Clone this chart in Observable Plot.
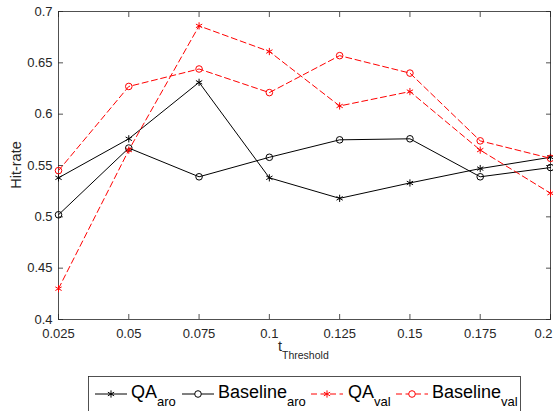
<!DOCTYPE html>
<html><head><meta charset="utf-8">
<script src="https://cdn.jsdelivr.net/npm/d3@7"></script>
<script src="https://cdn.jsdelivr.net/npm/@observablehq/plot@0.6"></script>
<style>
body{margin:0;background:#fff;font-family:"Liberation Sans",Arial,sans-serif}
#chart svg{display:block}
</style>
</head><body><div id="chart"></div><script>
// ---- data ----
const thresholds = [0.025, 0.05, 0.075, 0.1, 0.125, 0.15, 0.175, 0.2];
const xTickLabels = ["0.025", "0.05", "0.075", "0.1", "0.125", "0.15", "0.175", "0.2"];
const yTicks = [0.4, 0.45, 0.5, 0.55, 0.6, 0.65, 0.7];
const yTickLabels = ["0.4", "0.45", "0.5", "0.55", "0.6", "0.65", "0.7"];
const qaAro        = [0.538, 0.576, 0.631, 0.538, 0.518, 0.533, 0.547, 0.558];
const baselineAro  = [0.502, 0.567, 0.539, 0.558, 0.575, 0.576, 0.539, 0.548];
const qaVal        = [0.430, 0.565, 0.686, 0.661, 0.608, 0.622, 0.565, 0.523];
const baselineVal  = [0.545, 0.627, 0.644, 0.621, 0.657, 0.640, 0.574, 0.557];
const seriesMain = ["QA", "Baseline", "QA", "Baseline"];
const seriesSub  = ["aro", "aro", "val", "val"];
const xLabelMain = "t", xLabelSub = "Threshold";
const yLabel = "Hit-rate";

// ---- styles ----
const axisColor = "#262626";
const styles = [
  {values: qaAro, color: "#000000", dash: null, symbol: "asterisk"},
  {values: baselineAro, color: "#000000", dash: null, symbol: "circle"},
  {values: qaVal, color: "#ff0000", dash: "6,3.5", symbol: "asterisk"},
  {values: baselineVal, color: "#ff0000", dash: "6,3.5", symbol: "circle"}
];
const series = styles.map((s, k) => ({...s, rows: thresholds.map((t, i) => ({t, v: s.values[i], k}))}));

const W = 553, H = 372;
const mL = 58, mR = 3, mT = 11, mB = 53;
const xfmt = d => xTickLabels[thresholds.indexOf(d)];
const yfmt = d => yTickLabels[yTicks.indexOf(d)];

const marks = [
  Plot.frame({stroke: axisColor, strokeWidth: 0.8}),
  Plot.axisX({anchor: "bottom", ticks: thresholds, tickSize: 0, tickPadding: 9, tickFormat: xfmt, fontSize: 13, color: axisColor, label: null}),
  Plot.axisX({anchor: "bottom", ticks: thresholds, tickSize: -5, tickFormat: () => "", color: axisColor, strokeWidth: 0.8, label: null}),
  Plot.axisX({anchor: "top", ticks: thresholds, tickSize: -5, tickFormat: () => "", color: axisColor, strokeWidth: 0.8, label: null}),
  Plot.axisY({anchor: "left", ticks: yTicks, tickSize: 0, tickPadding: 6, tickFormat: yfmt, fontSize: 13, color: axisColor, label: null}),
  Plot.axisY({anchor: "left", ticks: yTicks, tickSize: -5, tickFormat: () => "", color: axisColor, strokeWidth: 0.8, label: null}),
  Plot.axisY({anchor: "right", ticks: yTicks, tickSize: -5, tickFormat: () => "", color: axisColor, strokeWidth: 0.8, label: null})
];
for (const s of series) {
  marks.push(Plot.line(s.rows, {x: "t", y: "v", stroke: s.color, strokeWidth: 1, strokeDasharray: s.dash}));
}
for (const s of series) {
  marks.push(Plot.dot(s.rows, {x: "t", y: "v", symbol: s.symbol, r: s.symbol === "asterisk" ? 3.4 : 3.3, stroke: s.color, fill: "none", strokeWidth: 1}));
}

const plot = Plot.plot({
  width: W, height: H,
  marginLeft: mL, marginRight: mR, marginTop: mT, marginBottom: mB,
  style: {fontFamily: '"Liberation Sans", Arial, sans-serif', background: "#fff"},
  x: {domain: [0.025, 0.2]},
  y: {domain: [0.4, 0.7]},
  marks
});
document.getElementById("chart").appendChild(plot);

// keep the last x tick label inside the picture
d3.select(plot).selectAll("text")
  .filter(function() { return this.textContent === xTickLabels[xTickLabels.length - 1]; })
  .attr("text-anchor", "end").attr("dx", 2);

// axis titles
const svg = d3.select(plot);
svg.append("text")
  .attr("transform", "translate(21,165) rotate(-90)")
  .attr("text-anchor", "middle")
  .attr("font-size", 14.5)
  .attr("fill", axisColor)
  .text(yLabel);
const xl = svg.append("text").attr("x", 278).attr("y", 351).attr("font-size", 14.5)
  .attr("text-anchor", "start").attr("fill", axisColor);
xl.append("tspan").text(xLabelMain);
xl.append("tspan").attr("dy", 8).attr("font-size", 10.5).text(xLabelSub);

// legend
const leg = d3.select("#chart").append("svg").attr("width", W).attr("height", 411 - H).style("display", "block");
leg.append("rect").attr("x", 88.5).attr("y", 4.5).attr("width", 432).attr("height", 45)
  .attr("fill", "#fff").attr("stroke", axisColor).attr("stroke-width", 0.8);
const lineStart = [95, 182, 311, 396];
const textStart = [131, 218, 348, 432];
const ly = 22;
series.forEach((s, k) => {
  const x0 = lineStart[k], x1 = x0 + 32;
  leg.append("line").attr("x1", x0).attr("x2", x1).attr("y1", ly).attr("y2", ly)
    .attr("stroke", s.color).attr("stroke-width", 1).attr("stroke-dasharray", s.dash);
  const sym = s.symbol === "asterisk" ? d3.symbolAsterisk : d3.symbolCircle;
  const size = Math.PI * (s.symbol === "asterisk" ? 3.4 : 3.3) ** 2;
  leg.append("path").attr("d", d3.symbol(sym, size)())
    .attr("transform", `translate(${(x0 + x1) / 2},${ly})`)
    .attr("fill", s.symbol === "circle" ? "#fff" : "none").attr("stroke", s.color).attr("stroke-width", 1);
  const t = leg.append("text").attr("x", textStart[k]).attr("y", 26).attr("font-size", 18).attr("fill", "#000");
  t.append("tspan").text(seriesMain[k]);
  t.append("tspan").attr("dy", 8).attr("font-size", 13).text(seriesSub[k]);
});
</script></body></html>
